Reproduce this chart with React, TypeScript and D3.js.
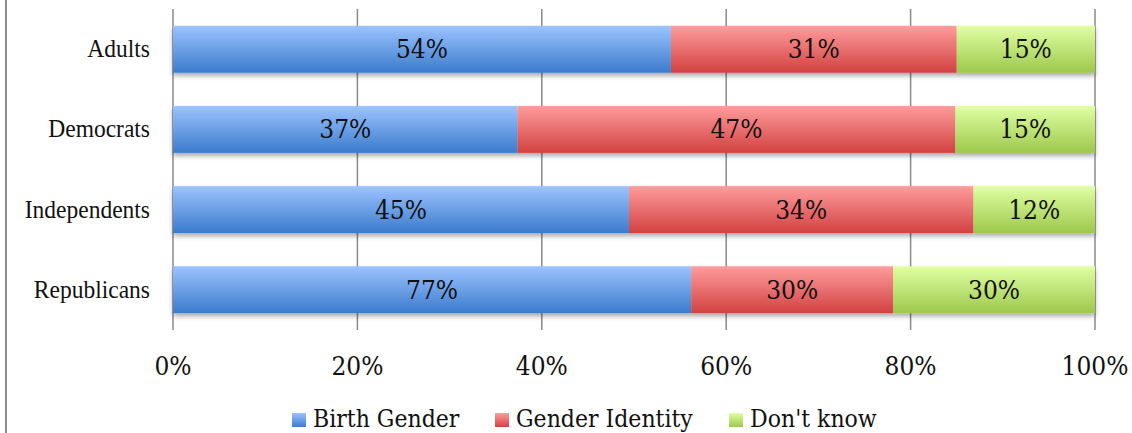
import React from 'react';
import * as d3 from 'd3';

const categories = ['Adults', 'Democrats', 'Independents', 'Republicans'];
const seriesNames = ['Birth Gender', 'Gender Identity', "Don't know"];
const birthGender = [54, 37, 45, 77];
const genderIdentity = [31, 47, 34, 30];
const dontKnow = [15, 15, 12, 30];
const tickValues = [0, 0.2, 0.4, 0.6, 0.8, 1];

const gradients = [
  { id: 'g-blue', top: '#9cc3ff', bottom: '#3b7bcc' },
  { id: 'g-red', top: '#ff9c9c', bottom: '#d24141' },
  { id: 'g-green', top: '#e0ffa3', bottom: '#9dc84b' },
];

const W = 1132;
const H = 433;
const serif = "'DejaVu Serif Condensed', 'DejaVu Serif', serif";
const catFont = "'Liberation Serif', 'Times New Roman', serif";

const App = () => {
  const rows = categories.map((c, i) => ({
    name: c,
    a: birthGender[i],
    b: genderIdentity[i],
    c: dontKnow[i],
  }));
  const keys = ['a', 'b', 'c'];
  const layers = d3.stack().keys(keys).offset(d3.stackOffsetExpand)(rows as any);

  const x = d3.scaleLinear().domain([0, 1]).range([173, 1095]);
  const y = d3
    .scaleBand()
    .domain(categories)
    .range([9, 330])
    .paddingInner(0.415)
    .paddingOuter(0.21);

  const legendX = [292, 495, 729];

  return (
    <svg
      width={W}
      height={H}
      style={{ position: 'absolute', left: 0, top: 0, background: '#fff' }}
    >
      <defs>
        {gradients.map((g) => (
          <linearGradient key={g.id} id={g.id} x1="0" y1="0" x2="0" y2="1">
            <stop offset="0%" stopColor={g.top} />
            <stop offset="100%" stopColor={g.bottom} />
          </linearGradient>
        ))}
        <filter id="shadow" x="-5%" y="-20%" width="110%" height="160%">
          <feDropShadow dx="0" dy="3" stdDeviation="2.5" floodColor="#000" floodOpacity="0.35" />
        </filter>
      </defs>

      <line x1={6} x2={6} y1={0} y2={H} stroke="#8c8c8c" strokeWidth={2} />

      {tickValues.map((t) => (
        <g key={t}>
          <line x1={x(t)} x2={x(t)} y1={9} y2={330} stroke="#8a8a8a" strokeWidth={1.5} />
          <text
            x={x(t)}
            y={375}
            textAnchor="middle"
            fontFamily={serif}
            fontSize={26}
            fill="#111"
          >
            {d3.format('.0%')(t)}
          </text>
        </g>
      ))}

      {categories.map((c) => (
        <text
          key={c}
          transform={`translate(150, ${(y(c) as number) + y.bandwidth() / 2 + 8}) scale(0.94, 1)`}
          textAnchor="end"
          fontFamily={catFont}
          fontSize={25}
          fill="#111"
        >
          {c}
        </text>
      ))}

      {categories.map((c, i) => (
        <g key={c} filter="url(#shadow)">
          {layers.map((layer, k) => (
            <rect
              key={k}
              x={x(layer[i][0])}
              y={y(c)}
              width={x(layer[i][1]) - x(layer[i][0])}
              height={y.bandwidth()}
              fill={`url(#${gradients[k].id})`}
            />
          ))}
        </g>
      ))}

      {categories.map((c, i) =>
        layers.map((layer, k) => (
          <text
            key={c + k}
            x={(x(layer[i][0]) + x(layer[i][1])) / 2}
            y={(y(c) as number) + y.bandwidth() / 2 + 9}
            textAnchor="middle"
            fontFamily={serif}
            fontSize={26}
            fill="#111"
          >
            {(rows[i] as any)[keys[k]]}%
          </text>
        ))
      )}

      {seriesNames.map((s, k) => (
        <g key={s}>
          <rect x={legendX[k]} y={413} width={14} height={14} fill={`url(#${gradients[k].id})`} />
          <text x={legendX[k] + 21} y={427} fontFamily={serif} fontSize={24.5} fill="#111">
            {s}
          </text>
        </g>
      ))}
    </svg>
  );
};

export default App;
